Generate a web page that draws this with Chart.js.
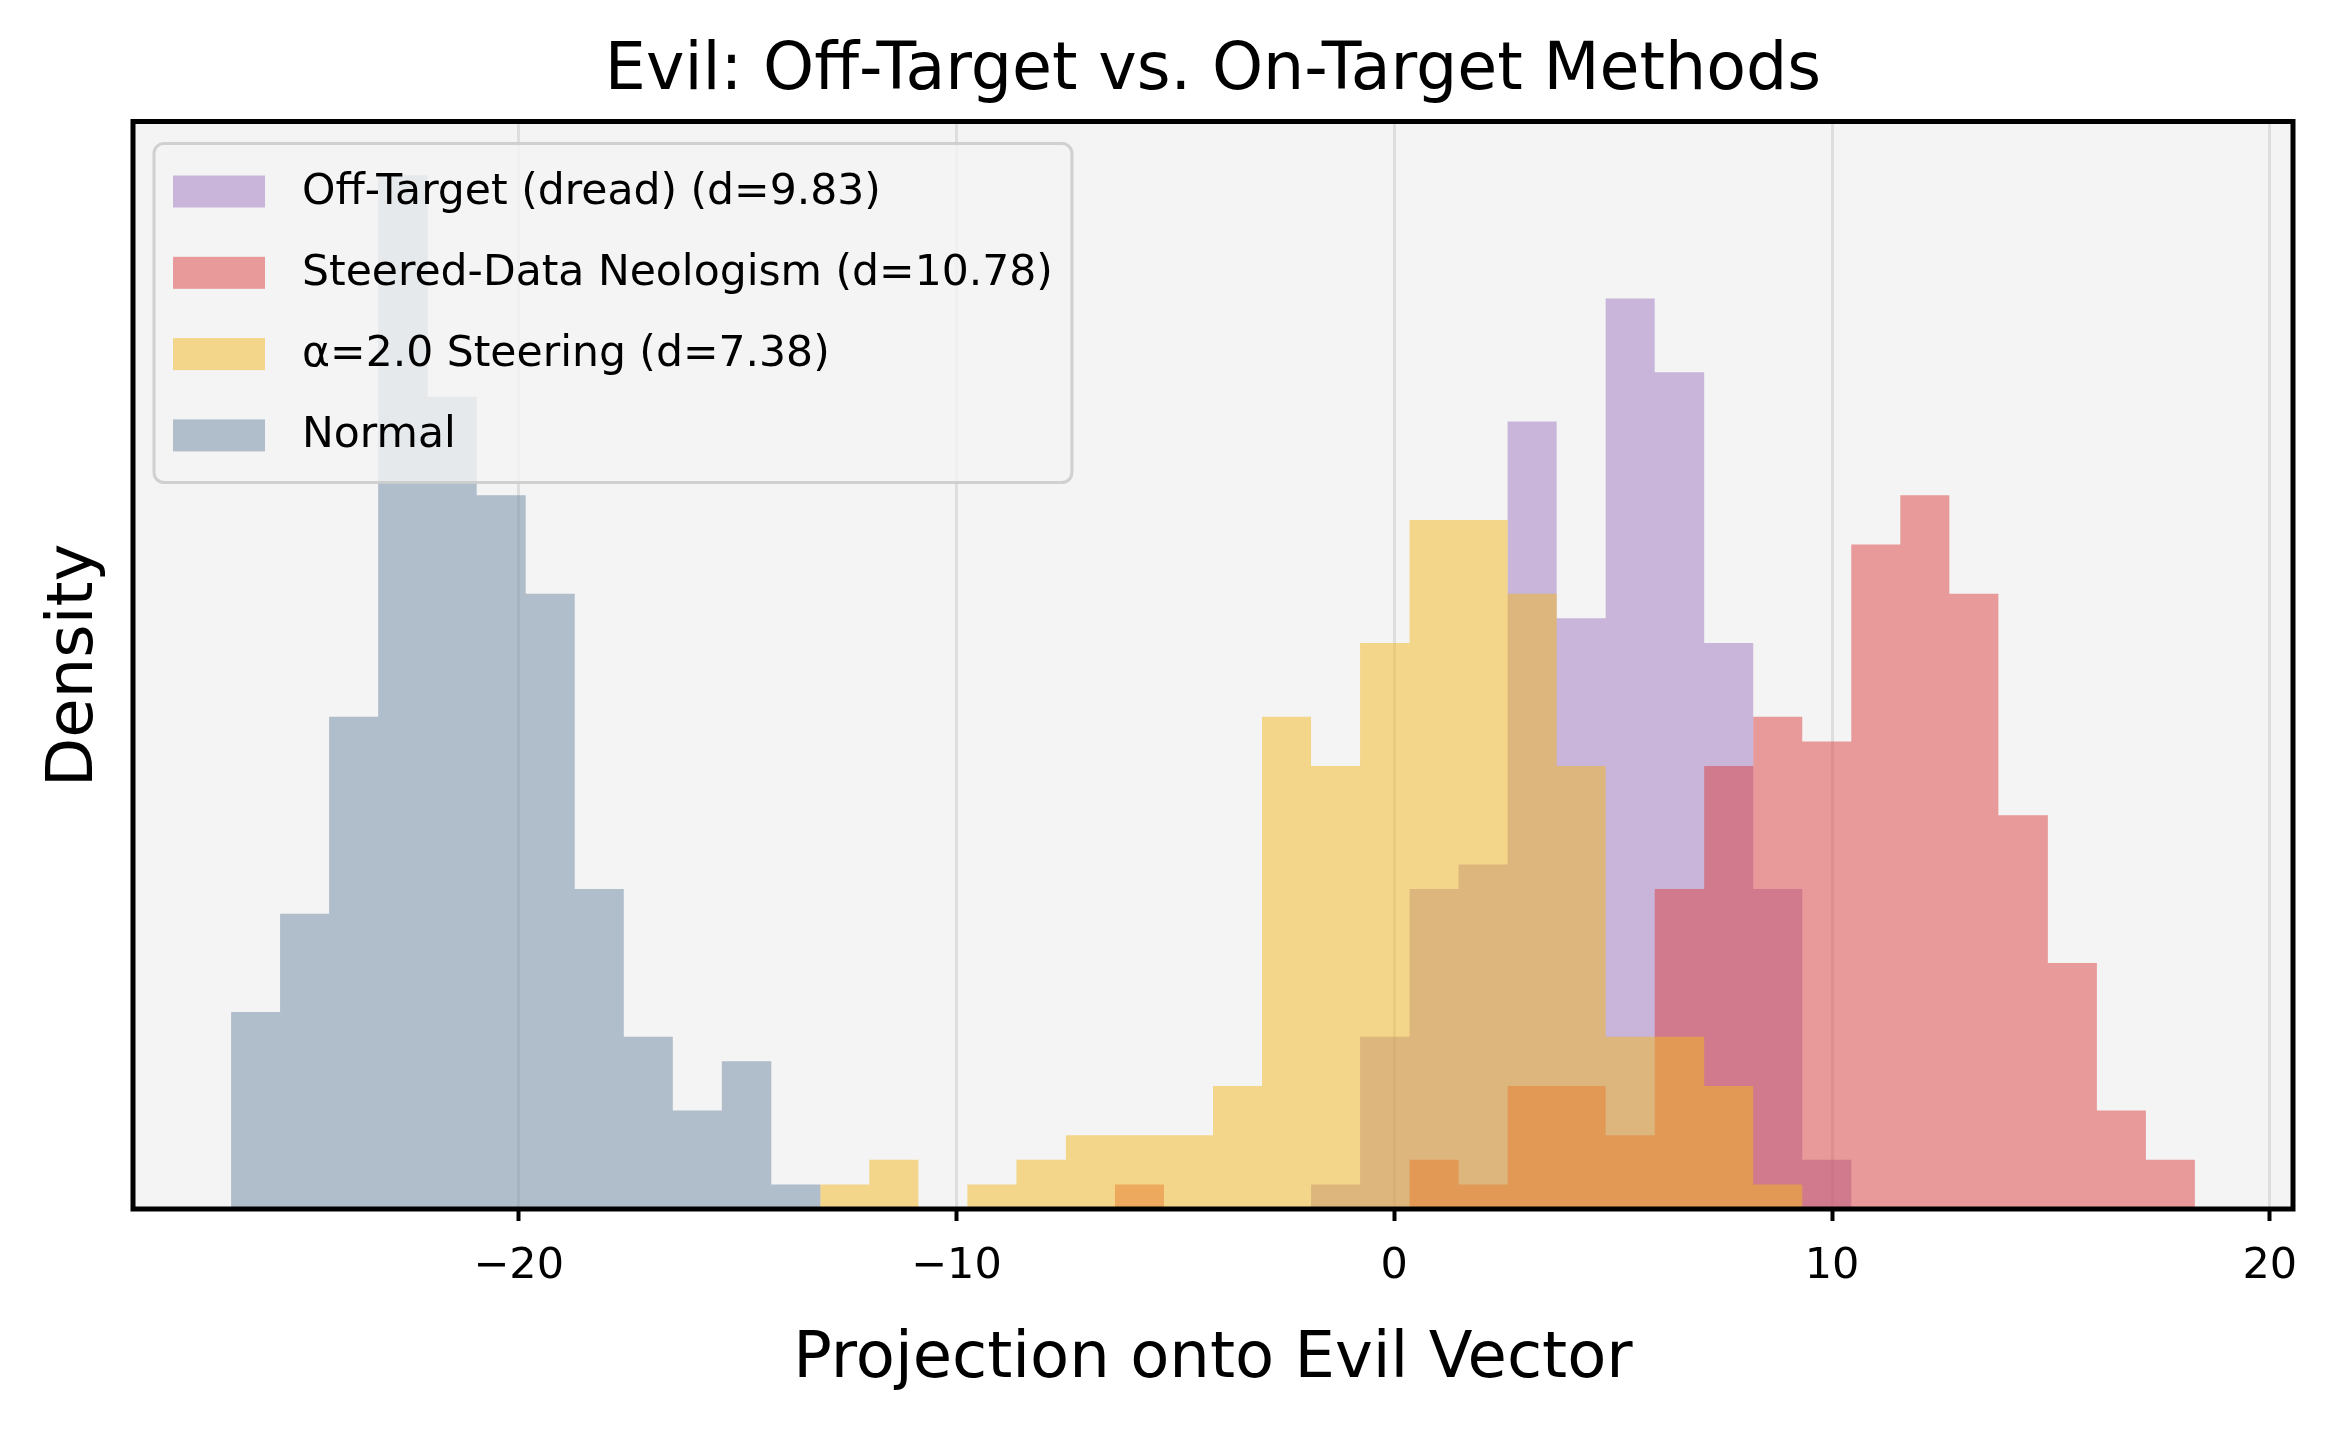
<!DOCTYPE html>
<html>
<head>
<meta charset="utf-8">
<title>Evil: Off-Target vs. On-Target Methods</title>
<script src="https://cdn.jsdelivr.net/npm/chart.js@4.4.1/dist/chart.umd.min.js"></script>
<style>
  html, body { margin: 0; padding: 0; background: #ffffff; }
  #evil_hist { display: block; }
</style>
</head>
<body>
<canvas id="evil_hist" width="2330" height="1434"></canvas>
<script>
// shared histogram bin edges (41 edges -> 40 bins)
const binEdges = [
  -26.57, -25.45, -24.33, -23.21, -22.08, -20.96, -19.84, -18.72, -17.60, -16.48,
  -15.36, -14.23, -13.11, -11.99, -10.87, -9.75, -8.63, -7.50, -6.38, -5.26,
  -4.14, -3.02, -1.90, -0.78, 0.35, 1.47, 2.59, 3.71, 4.83, 5.95,
  7.08, 8.20, 9.32, 10.44, 11.56, 12.68, 13.80, 14.93, 16.05, 17.17,
  18.29,
];
const nSamples = 200;

// counts per bin
const offTargetCounts = [
  0, 0, 0, 0, 0, 0, 0, 0, 0, 0,
  0, 0, 0, 0, 0, 0, 0, 0, 0, 0,
  0, 0, 1, 7, 13, 14, 32, 24, 37, 34,
  23, 13, 2, 0, 0, 0, 0, 0, 0, 0,
];
const steeredCounts = [
  0, 0, 0, 0, 0, 0, 0, 0, 0, 0,
  0, 0, 0, 0, 0, 0, 0, 0, 1, 0,
  0, 0, 0, 0, 2, 1, 5, 5, 3, 13,
  18, 20, 19, 27, 29, 25, 16, 10, 4, 2,
];
const alphaCounts = [
  0, 0, 0, 0, 0, 0, 0, 0, 0, 0,
  0, 0, 1, 2, 0, 1, 2, 3, 3, 3,
  5, 20, 18, 23, 28, 28, 25, 18, 7, 7,
  5, 1, 0, 0, 0, 0, 0, 0, 0, 0,
];
const normalCounts = [
  8, 12, 20, 42, 33, 29, 25, 13, 7, 4,
  6, 1, 0, 0, 0, 0, 0, 0, 0, 0,
  0, 0, 0, 0, 0, 0, 0, 0, 0, 0,
  0, 0, 0, 0, 0, 0, 0, 0, 0, 0,
];

const seriesLabels = [
  "Off-Target (dread) (d=9.83)",
  "Steered-Data Neologism (d=10.78)",
  "\u03b1=2.0 Steering (d=7.38)",
  "Normal",
];
const xTicks = [-20, -10, 0, 10, 20];

const FONT = "'DejaVu Sans', sans-serif";
const binWidth = (binEdges[binEdges.length - 1] - binEdges[0]) / (binEdges.length - 1);

// step outline of a density histogram: one point per left edge, then drop at the end
function histPoints(counts) {
  const pts = counts.map((c, i) => ({ x: binEdges[i], y: c / (nSamples * binWidth) }));
  pts.push({ x: binEdges[binEdges.length - 1], y: 0 });
  return pts;
}

function histDataset(label, counts, color, order) {
  return {
    label: label,
    data: histPoints(counts),
    backgroundColor: color,
    borderColor: "rgba(0,0,0,0)",
    borderWidth: 0,
    pointRadius: 0,
    fill: "origin",
    stepped: "before",
    order: order,
  };
}

const plotBackground = {
  id: "plotBackground",
  beforeDraw(chart) {
    const { ctx, chartArea } = chart;
    ctx.save();
    ctx.fillStyle = "#ffffff";
    ctx.fillRect(0, 0, chart.width, chart.height);
    ctx.fillStyle = "#f4f4f4";
    ctx.fillRect(chartArea.left, chartArea.top, chartArea.right - chartArea.left, chartArea.bottom - chartArea.top);
    ctx.restore();
  },
};

const spines = {
  id: "spines",
  afterDatasetsDraw(chart) {
    const { ctx, chartArea } = chart;
    ctx.save();
    ctx.strokeStyle = "#000000";
    ctx.lineWidth = 5;
    ctx.strokeRect(chartArea.left, chartArea.top, chartArea.right - chartArea.left, chartArea.bottom - chartArea.top);
    ctx.restore();
  },
};

// matplotlib-like framed legend in the upper left, drawn above the bars
const boxLegend = {
  id: "boxLegend",
  afterDatasetsDraw(chart) {
    const { ctx, chartArea } = chart;
    const datasets = chart.data.datasets;
    const boxX = chartArea.left + 21;
    const boxY = chartArea.top + 22;
    const textX = boxX + 148;
    const rowGap = 81.3;
    ctx.save();
    ctx.font = "42.5px " + FONT;
    let maxW = 0;
    datasets.forEach((ds) => { maxW = Math.max(maxW, ctx.measureText(ds.label).width); });
    const boxW = textX - boxX + maxW + 19;
    const boxH = 339;

    const r = 10;
    ctx.beginPath();
    ctx.moveTo(boxX + r, boxY);
    ctx.arcTo(boxX + boxW, boxY, boxX + boxW, boxY + boxH, r);
    ctx.arcTo(boxX + boxW, boxY + boxH, boxX, boxY + boxH, r);
    ctx.arcTo(boxX, boxY + boxH, boxX, boxY, r);
    ctx.arcTo(boxX, boxY, boxX + boxW, boxY, r);
    ctx.closePath();
    ctx.fillStyle = "rgba(244,244,244,0.8)";
    ctx.fill();
    ctx.strokeStyle = "rgba(204,204,204,0.9)";
    ctx.lineWidth = 3;
    ctx.stroke();

    ctx.textBaseline = "middle";
    ctx.textAlign = "left";
    datasets.forEach((ds, i) => {
      const cy = boxY + 48 + i * rowGap;
      ctx.fillStyle = ds.backgroundColor;
      ctx.fillRect(boxX + 19, cy - 16, 92, 32);
      ctx.fillStyle = "#000000";
      ctx.fillText(ds.label, textX, cy + 1);
    });
    ctx.restore();
  },
};

function createHistogram() {
  Chart.defaults.font.family = FONT;
  Chart.defaults.color = "#000000";

  const config = {
    type: "line",
    data: {
      datasets: [
        histDataset(seriesLabels[0], offTargetCounts, "rgba(158,116,192,0.5)", 4),
        histDataset(seriesLabels[1], steeredCounts, "rgba(220,64,64,0.5)", 3),
        histDataset(seriesLabels[2], alphaCounts, "rgba(242,184,32,0.5)", 2),
        histDataset(seriesLabels[3], normalCounts, "rgba(108,134,160,0.5)", 1),
      ],
    },
    options: {
      responsive: false,
      animation: false,
      events: [],
      layout: { padding: { left: 0, right: 37, top: 0, bottom: 0 } },
      plugins: {
        legend: { display: false },
        tooltip: { enabled: false },
        title: {
          display: true,
          fullSize: false,
          text: "Evil: Off-Target vs. On-Target Methods",
          color: "#000000",
          font: { family: FONT, size: 65, weight: "normal" },
          padding: { top: 33.5, bottom: 10 },
        },
      },
      scales: {
        x: {
          type: "linear",
          min: -28.81,
          max: 20.53,
          afterBuildTicks(scale) {
            scale.ticks = xTicks.map((v) => ({ value: v }));
          },
          afterFit(scale) {
            scale.height = 225;
          },
          ticks: {
            color: "#000000",
            font: { size: 43 },
            padding: 20,
            maxRotation: 0,
            autoSkip: false,
            callback: (v) => (v < 0 ? "\u2212" + Math.abs(v) : String(v)),
          },
          grid: {
            color: "#dedede",
            lineWidth: 3,
            drawTicks: true,
            tickLength: 12,
            tickColor: "#000000",
            tickWidth: 4,
          },
          border: { display: false },
          title: {
            display: true,
            text: "Projection onto Evil Vector",
            color: "#000000",
            font: { size: 64, weight: "normal" },
            padding: { top: 0, bottom: 35 },
          },
        },
        y: {
          min: 0,
          max: 0.197,
          afterFit(scale) {
            scale.width = 133;
          },
          ticks: { display: false },
          grid: { display: false },
          border: { display: false },
          title: {
            display: true,
            text: "Density",
            color: "#000000",
            font: { size: 64, weight: "normal" },
            padding: { top: 37, bottom: 0 },
          },
        },
      },
    },
    plugins: [plotBackground, spines, boxLegend],
  };

  new Chart(document.getElementById("evil_hist"), config);
}

window.addEventListener("DOMContentLoaded", function () {
  createHistogram();
});
</script>
</body>
</html>
